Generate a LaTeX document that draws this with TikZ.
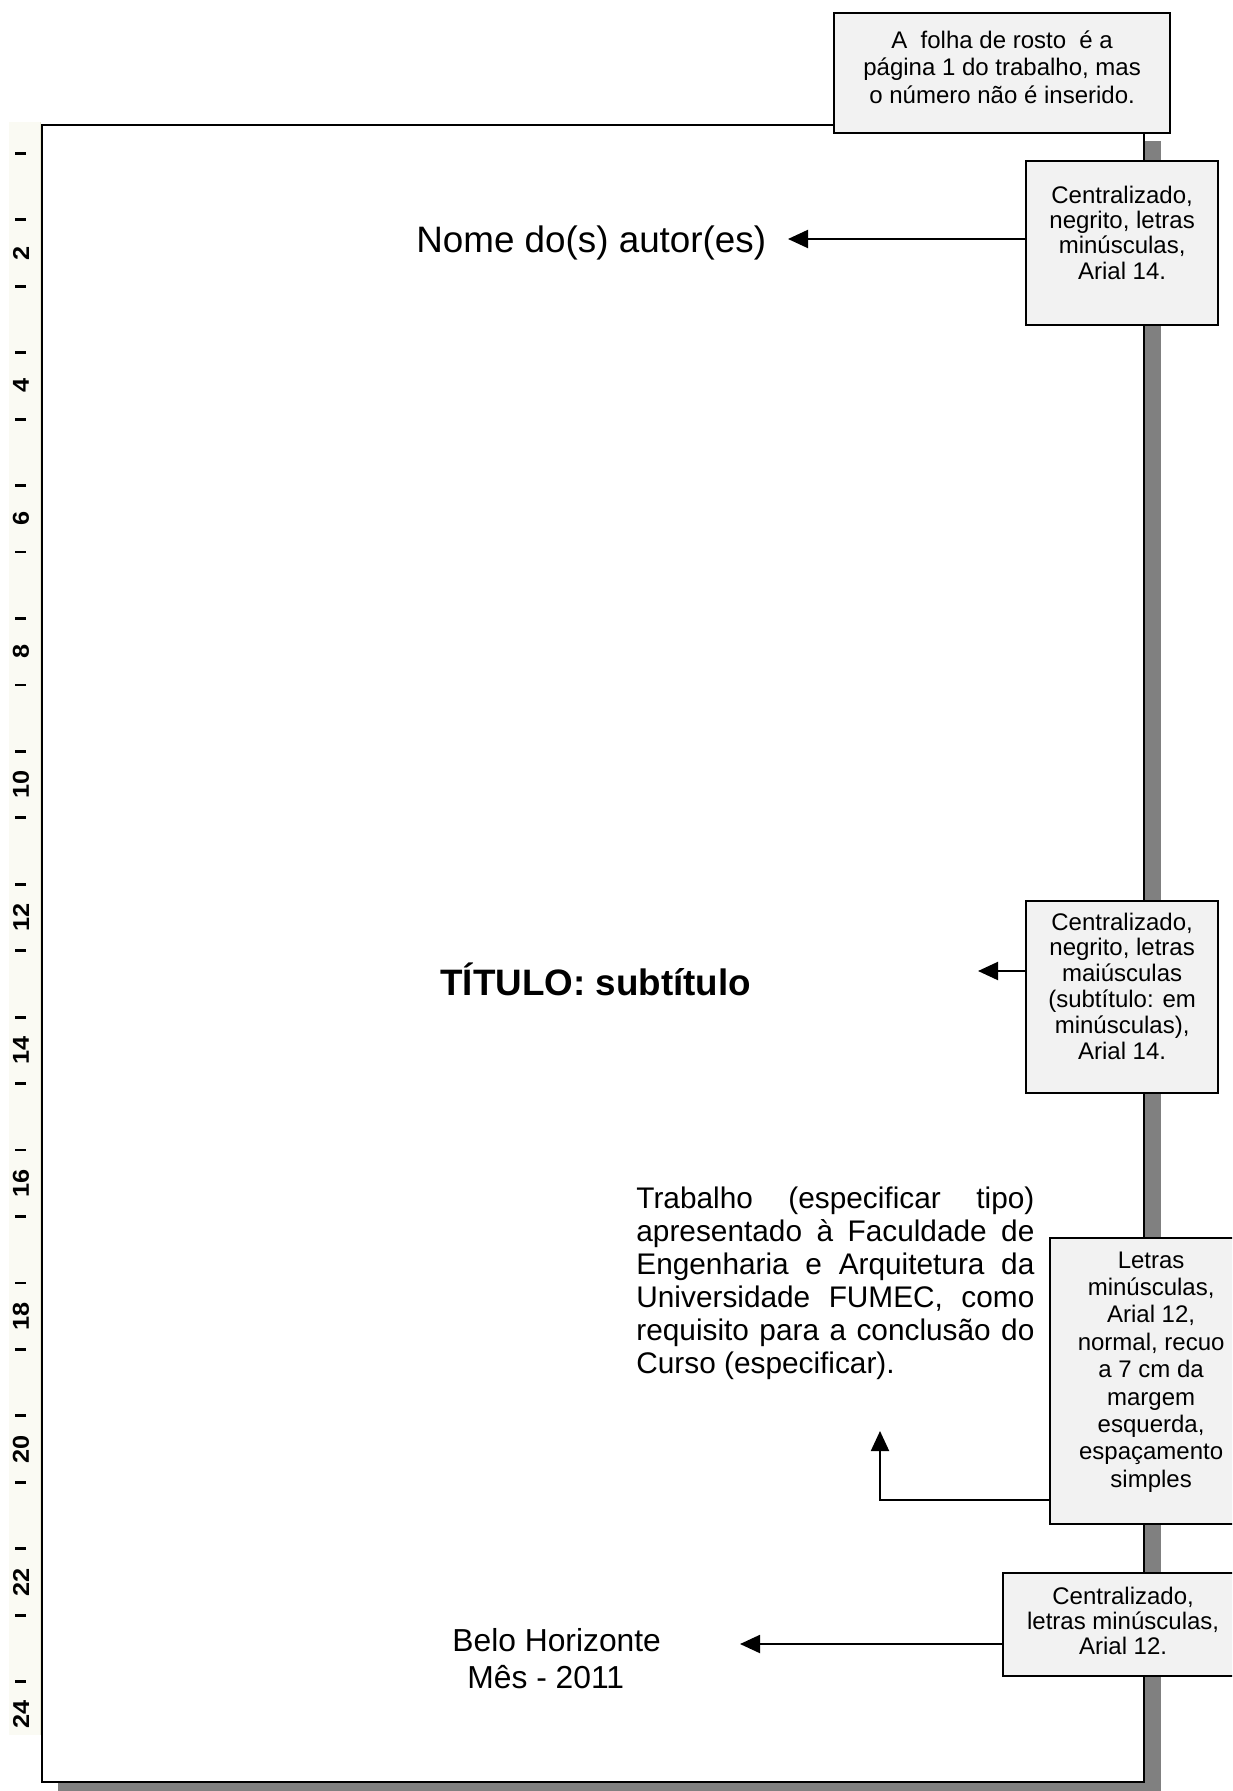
\documentclass[tikz,border=0pt]{standalone}
\usepackage{fontspec}
\setmainfont{Liberation Sans}
\usetikzlibrary{arrows.meta}

\definecolor{notefill}{RGB}{242,242,242}
\definecolor{shadowgray}{RGB}{128,128,128}
\definecolor{rulerbg}{RGB}{250,250,243}
\definecolor{ruleredge}{RGB}{232,232,210}

% text block of a note box: width, height, first baseline, line skip, lines
\newcommand\noteblock[5]{\parbox[c][#2][t]{#1}{\centering\fontsize{12pt}{#4}\selectfont\rule{0pt}{#3}#5\par}}
% one justified line of the dedication paragraph
\newcommand\fullline[1]{\makebox[199pt][s]{#1}}

\begin{document}
\begin{tikzpicture}[x=0.5pt,y=-0.5pt,
  note/.style={draw=black, line width=1.1pt, fill=notefill, inner sep=0pt, anchor=north west},
  conn/.style={line width=1pt, -{Triangle[length=10pt,width=9pt]}},
  rulernum/.style={rotate=90, inner sep=0pt, font=\fontsize{11.5pt}{13pt}\selectfont\bfseries},
  rulertick/.style={line width=1.4pt},
  plain/.style={anchor=base west, inner sep=0pt}]

\useasboundingbox (0,0) rectangle (1232,1791);
\clip (0,0) rectangle (1232,1791);

% sheet with its drop shadow
\fill[shadowgray] (58,141) rectangle (1161,1800);
\draw[line width=1.2pt, fill=white] (42,125) rectangle (1144,1782);

% vertical ruler
\fill[rulerbg] (9,122) rectangle (41,1735);
\draw[ruleredge, line width=0.8pt] (40.5,122) -- (40.5,1735);
\foreach \c in {2,4,...,24}
  \node[rulernum] at (21,{253+(\c-2)*66.45}) {\scalebox{1.1}[1]{\c}};
\foreach \k in {0,...,23}
  \draw[rulertick] (15,{253+(\k-1.5)*66.45}) -- (26,{253+(\k-1.5)*66.45});

% note boxes
\node[note] (b1) at (833,12) {\noteblock{168pt}{60pt}{17.5pt}{13.75pt}{A\ \ folha de rosto\ \ é a\\página 1 do trabalho, mas\\o número não é inserido.}};
\node[note] (b2) at (1025,160) {\noteblock{96pt}{82pt}{21pt}{12.7pt}{Centralizado,\\negrito, letras\\minúsculas,\\Arial 14.}};
\node[note] (b3) at (1025,900) {\noteblock{96pt}{96pt}{14.5pt}{12.9pt}{Centralizado,\\negrito, letras\\maiúsculas\\(subtítulo: em\\minúsculas),\\Arial 14.}};
\node[note] (b4) at (1049,1237) {\noteblock{101pt}{143pt}{15pt}{13.7pt}{Letras\\minúsculas,\\Arial 12,\\normal, recuo\\a 7 cm da\\margem\\esquerda,\\espaçamento\\simples}};
\node[note] (b5) at (1002,1572) {\noteblock{120pt}{51.5pt}{15.5pt}{12.5pt}{Centralizado,\\letras minúsculas,\\Arial 12.}};

% page contents
\node[plain, font=\fontsize{18.4pt}{22pt}\selectfont] (nome) at (416,253) {Nome do(s) autor(es)};
\node[plain, font=\fontsize{18.4pt}{22pt}\selectfont\bfseries] (titulo) at (440,995) {TÍTULO: subtítulo};
\node[plain] (resumo) at (636,1208) {\parbox[t]{199pt}{\fontsize{14.9pt}{16.5pt}\selectfont
  \fullline{Trabalho (especificar tipo)}\\
  \fullline{apresentado à Faculdade de}\\
  \fullline{Engenharia e Arquitetura da}\\
  \fullline{Universidade FUMEC, como}\\
  \fullline{requisito para a conclusão do}\\
  Curso (especificar).}};
\node[plain, font=\fontsize{15.9pt}{19pt}\selectfont] (cidade) at (452,1651) {Belo Horizonte};
\node[plain, font=\fontsize{15.9pt}{19pt}\selectfont] (data) at (467,1688) {Mês - 2011};

% connectors from the notes
\coordinate (t1) at (788,239);
\coordinate (t2) at (978,971);
\coordinate (e3) at (880,1500);
\coordinate (t3) at (880,1431);
\coordinate (t4) at (740,1644);
\draw[conn] (b2.west |- t1) -- (t1);
\draw[conn] (b3.west |- t2) -- (t2);
\draw[conn] (b4.west |- e3) -- (e3) -- (t3);
\draw[conn] (b5.west |- t4) -- (t4);
\end{tikzpicture}
\end{document}
